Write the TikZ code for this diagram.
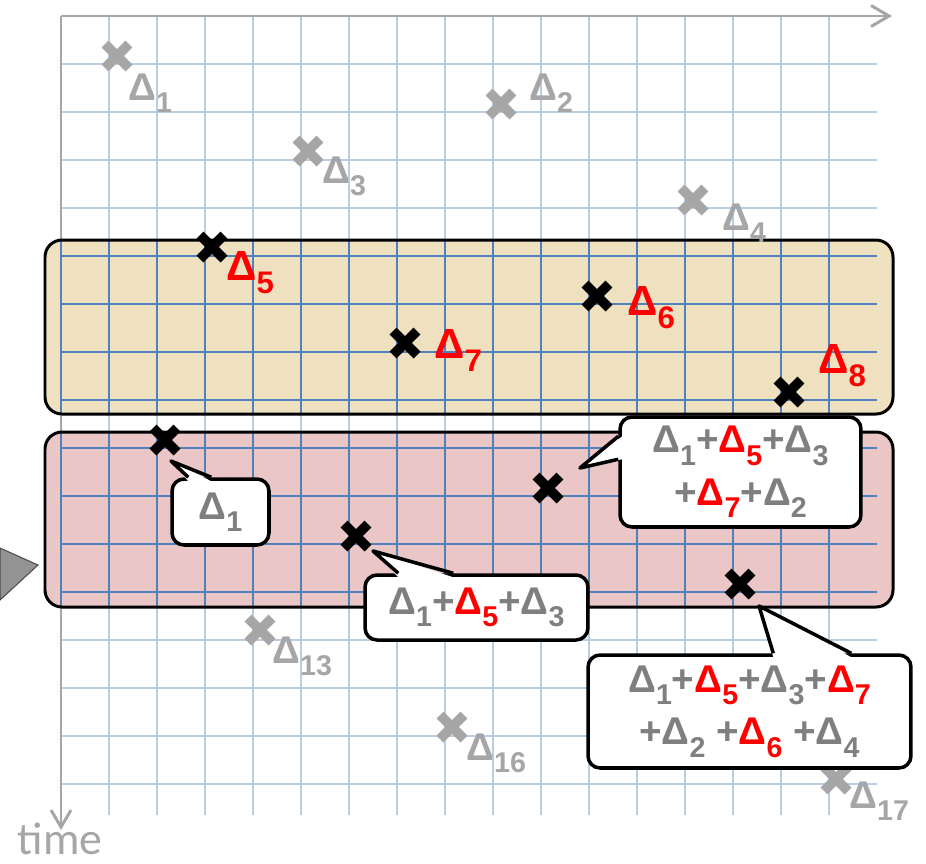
\documentclass[tikz,border=0pt]{standalone}
\usepackage{fontspec}
\setmainfont{Liberation Sans}
\newfontfamily\timefont{Carlito}
\usetikzlibrary{calc, shapes.misc, positioning, arrows.meta}

\definecolor{gridlight}{HTML}{B9CDE5}
\definecolor{griddark}{HTML}{4F81BD}
\definecolor{axisgray}{HTML}{A6A6A6}
\definecolor{labgray}{HTML}{A6A6A6}
\definecolor{sumgray}{HTML}{7F7F7F}
\definecolor{delred}{HTML}{FF0000}
\definecolor{bandtan}{HTML}{EFE1BF}
\definecolor{bandpink}{HTML}{EAC6C6}

\newcommand{\dsub}[1]{Δ\raisebox{-0.32em}{\scalebox{0.74}{#1}}}
\newcommand{\rdsub}[1]{{\color{delred}\dsub{#1}}}

\tikzset{
    gmark/.style={cross out, draw=labgray, line width=5.5pt, minimum size=0.48cm,
        inner sep=0pt, outer sep=0pt},
    kmark/.style={gmark, draw=black},
    glab/.style={anchor=base west, inner sep=0pt, text=labgray,
        font=\fontsize{22}{26}\selectfont\bfseries},
    rlab/.style={glab, text=delred, font=\fontsize{24}{28}\selectfont\bfseries},
    sumbox/.style={draw=black, fill=white, line width=2pt, rounded corners=0.24cm,
        inner sep=0pt, align=center, text=sumgray,
        font=\fontsize{22}{30}\selectfont\bfseries},
    pointer/.style={draw=black, line width=2pt, line join=round},
}

\begin{document}
\begin{tikzpicture}[x=0.02cm, y=-0.02cm]
    \useasboundingbox (0,0) rectangle (926,863);

    % =================================================================
    % 1. GRID AND AXES
    % =================================================================
    \foreach \k in {1,...,16} {
        \draw[gridlight, line width=1.1pt] (61,{16+48*\k}) -- (877,{16+48*\k});
        \draw[gridlight, line width=1.1pt] ({61+48*\k},16) -- ({61+48*\k},815);
    }
    \coordinate (o) at (61,16);
    \draw[axisgray, line width=1.7pt, -{Straight Barb[length=0.36cm, width=0.42cm]}]
        (o) -- (892,16);
    \draw[axisgray, line width=1.7pt, -{Straight Barb[length=0.34cm, width=0.40cm]}]
        (o) -- (61,830);
    \node[anchor=base, inner sep=0pt, text=axisgray,
        font=\timefont\fontsize{26}{30}\selectfont] (tm) at (60,854) {time};

    % device at the left edge
    \filldraw[fill=gray!85!white, draw=gray!60!black, line width=0.6pt]
        (0,548) -- (38,565) -- (0,600) -- cycle;

    % =================================================================
    % 2. BANDS
    % =================================================================
    \fill[bandtan, rounded corners=0.34cm] (45,240) rectangle (893,414);
    \begin{scope}
        \clip[rounded corners=0.34cm] (45,240) rectangle (893,414);
        \foreach \k in {0,...,16} {
            \draw[griddark, line width=1.1pt] (61,{16+48*\k}) -- (877,{16+48*\k});
            \draw[griddark, line width=1.1pt] ({61+48*\k},16) -- ({61+48*\k},815);
        }
    \end{scope}
    \draw[line width=1.7pt, rounded corners=0.34cm] (45,240) rectangle (893,414);

    \fill[bandpink, rounded corners=0.34cm] (45,432) rectangle (893,607);
    \begin{scope}
        \clip[rounded corners=0.34cm] (45,432) rectangle (893,607);
        \foreach \k in {0,...,16} {
            \draw[griddark, line width=1.1pt] (61,{16+48*\k}) -- (877,{16+48*\k});
            \draw[griddark, line width=1.1pt] ({61+48*\k},16) -- ({61+48*\k},815);
        }
    \end{scope}
    \draw[line width=1.7pt, rounded corners=0.34cm] (45,432) rectangle (893,607);

    % =================================================================
    % 3. MARKS AND LABELS
    % =================================================================
    \node[gmark] (g1) at (117,56) {};
    \node[glab] (lg1) at (128,100) {\dsub{1}};
    \node[gmark] (g2) at (501,104) {};
    \node[glab] (lg2) at (529,100) {\dsub{2}};
    \node[gmark] (g3) at (308,151) {};
    \node[glab] (lg3) at (322,183) {\dsub{3}};
    \node[gmark] (g4) at (693,200) {};
    \node[glab] (lg4) at (722,230) {\dsub{4}};

    \node[kmark] (k5) at (212,247) {};
    \node[rlab] (lk5) at (226,280) {\dsub{5}};
    \node[kmark] (k6) at (597,296) {};
    \node[rlab] (lk6) at (627,315) {\dsub{6}};
    \node[kmark] (k7) at (405,343) {};
    \node[rlab] (lk7) at (434,358) {\dsub{7}};
    \node[kmark] (k8) at (789,392) {};
    \node[rlab] (lk8) at (818,373) {\dsub{8}};

    \node[kmark] (m1) at (165,440) {};
    \node[kmark] (m2) at (356,536) {};
    \node[kmark] (m3) at (548,488) {};
    \node[kmark] (m4) at (740,584) {};

    \node[gmark] (g13) at (260,630) {};
    \node[glab] (lg13) at (272,663) {\dsub{13}};
    \node[gmark] (g16) at (452,727) {};
    \node[glab] (lg16) at (466,760) {\dsub{16}};
    \node[gmark] (g17) at (836,779) {};
    \node[glab] (lg17) at (849,808) {\dsub{17}};

    % =================================================================
    % 4. CALLOUTS
    % =================================================================
    \coordinate (t1) at ([shift={(6,21)}]m1.center);
    \coordinate (t2) at ([shift={(17,15)}]m2.center);
    \coordinate (t3) at ([shift={(32,-20)}]m3.center);
    \coordinate (t4) at ([shift={(19,22)}]m4.center);

    \node[sumbox, minimum width=1.94cm, minimum height=1.32cm] (s1) at (220.5,512)
        {\dsub{1}};
    \fill[white] ($(s1.north west)+(18,4)$) -- (t1) -- ($(s1.north west)+(41,4)$) -- cycle;
    \draw[pointer] ($(s1.north west)+(18,0)$) -- (t1) -- ($(s1.north west)+(41,0)$);

    \node[sumbox, minimum width=4.46cm, minimum height=1.30cm] (s2) at (476.5,607.5)
        {\dsub{1}+\rdsub{5}+\dsub{3}};
    \fill[white] ($(s2.north west)+(35,4)$) -- (t2) -- ($(s2.north west)+(90,4)$) -- cycle;
    \draw[pointer] ($(s2.north west)+(35,0)$) -- (t2) -- ($(s2.north west)+(90,0)$);

    \node[sumbox, minimum width=4.82cm, minimum height=2.20cm] (s3) at (740.5,472)
        {\dsub{1}+\rdsub{5}+\dsub{3}\\+\rdsub{7}+\dsub{2}};
    \fill[white] ($(s3.north west)+(4,21)$) -- (t3) -- ($(s3.north west)+(4,44)$) -- cycle;
    \draw[pointer] ($(s3.north west)+(0,21)$) -- (t3) -- ($(s3.north west)+(0,44)$);

    \node[sumbox, minimum width=6.46cm, minimum height=2.26cm] (s4) at (749.5,711.5)
        {\dsub{1}+\rdsub{5}+\dsub{3}+\rdsub{7}\\+\dsub{2} +\rdsub{6} +\dsub{4}};
    \fill[white] ($(s4.north west)+(187,4)$) -- (t4) -- ($(s4.north west)+(265,4)$) -- cycle;
    \draw[pointer] ($(s4.north west)+(187,0)$) -- (t4) -- ($(s4.north west)+(265,0)$);

\end{tikzpicture}
\end{document}
